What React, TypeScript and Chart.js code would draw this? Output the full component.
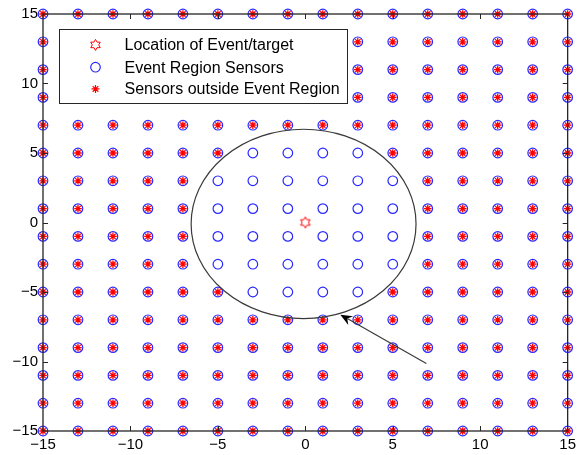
import React, { useEffect, useRef } from 'react';
import { Chart, registerables } from 'chart.js';

Chart.register(...registerables);

// Sensor grid coordinates
const gridX = [-15, -13, -11, -9, -7, -5, -3, -1, 1, 3, 5, 7, 9, 11, 13, 15];
const gridY = [15, 13, 11, 9, 7, 5, 3, 1, -1, -3, -5, -7, -9, -11, -13, -15];

// Sensors inside the event region
const insideSensors: [number, number][] = [
  [-3, 5], [-1, 5], [1, 5], [3, 5],
  [-5, 3], [-3, 3], [-1, 3], [1, 3], [3, 3], [5, 3],
  [-5, 1], [-3, 1], [-1, 1], [1, 1], [3, 1], [5, 1],
  [-5, -1], [-3, -1], [-1, -1], [1, -1], [3, -1], [5, -1],
  [-5, -3], [-3, -3], [-1, -3], [1, -3], [3, -3], [5, -3],
  [-3, -5], [-1, -5], [1, -5], [3, -5],
];

// Event / target location
const targetX = [0];
const targetY = [0];

// Event region boundary (data units)
const regionCenterX = -0.1;
const regionCenterY = -0.1;
const regionRadiusX = 6.43;
const regionRadiusY = 6.81;

// Arrow annotation (data units)
const arrowFrom = [6.92, -10.14];
const arrowTo = [2.0, -6.63];

const axisMin = -15;
const axisMax = 15;
const tickStep = 5;

const legendLabels = [
  'Location of Event/target',
  'Event Region Sensors',
  'Sensors outside Event Region',
];

const RED = 'rgb(255,0,0)';
const BLUE = 'rgb(40,40,255)';
const AXIS = '#262626';
const FONT = "'Liberation Sans', Arial, Helvetica, sans-serif";

function hexagramPath(ctx: CanvasRenderingContext2D, cx: number, cy: number, R: number) {
  const r = R / Math.sqrt(3);
  ctx.beginPath();
  for (let i = 0; i < 12; i++) {
    const ang = -Math.PI / 2 + (i * Math.PI) / 6;
    const rad = i % 2 === 0 ? R : r;
    const px = cx + rad * Math.cos(ang);
    const py = cy + rad * Math.sin(ang);
    if (i === 0) ctx.moveTo(px, py);
    else ctx.lineTo(px, py);
  }
  ctx.closePath();
}

function makeHexagram(): HTMLCanvasElement {
  const c = document.createElement('canvas');
  c.width = 14;
  c.height = 14;
  const g = c.getContext('2d')!;
  g.strokeStyle = RED;
  g.lineWidth = 1;
  hexagramPath(g, 7, 7, 5.5);
  g.stroke();
  return c;
}

function drawAsterisk(ctx: CanvasRenderingContext2D, x: number, y: number, r: number) {
  ctx.beginPath();
  for (let i = 0; i < 4; i++) {
    const a = (i * Math.PI) / 4;
    ctx.moveTo(x - r * Math.cos(a), y - r * Math.sin(a));
    ctx.lineTo(x + r * Math.cos(a), y + r * Math.sin(a));
  }
  ctx.stroke();
}

const overlayPlugin = {
  id: 'overlay',
  afterDatasetsDraw(chart: any) {
    const { ctx, chartArea: a, scales } = chart;
    const x = scales.x;
    const y = scales.y;
    ctx.save();

    // Event region ellipse
    const cx = x.getPixelForValue(regionCenterX);
    const cy = y.getPixelForValue(regionCenterY);
    const rx = x.getPixelForValue(regionCenterX + regionRadiusX) - cx;
    const ry = cy - y.getPixelForValue(regionCenterY + regionRadiusY);
    ctx.beginPath();
    ctx.ellipse(cx, cy, rx, ry, 0, 0, Math.PI * 2);
    ctx.strokeStyle = '#3a3a3a';
    ctx.lineWidth = 1.2;
    ctx.stroke();

    // Arrow
    const tx = x.getPixelForValue(arrowFrom[0]);
    const ty = y.getPixelForValue(arrowFrom[1]);
    const hx = x.getPixelForValue(arrowTo[0]);
    const hy = y.getPixelForValue(arrowTo[1]);
    const len = Math.hypot(hx - tx, hy - ty);
    const dx = (hx - tx) / len;
    const dy = (hy - ty) / len;
    const nx = -dy;
    const ny = dx;
    const L = 12;
    const W = 5;
    const notch = 8;
    ctx.beginPath();
    ctx.moveTo(tx, ty);
    ctx.lineTo(hx - dx * notch, hy - dy * notch);
    ctx.strokeStyle = '#3a3a3a';
    ctx.lineWidth = 1.2;
    ctx.stroke();
    ctx.beginPath();
    ctx.moveTo(hx, hy);
    ctx.lineTo(hx - dx * L + nx * W, hy - dy * L + ny * W);
    ctx.lineTo(hx - dx * notch, hy - dy * notch);
    ctx.lineTo(hx - dx * L - nx * W, hy - dy * L - ny * W);
    ctx.closePath();
    ctx.fillStyle = '#000';
    ctx.fill();

    // Axes box
    ctx.strokeStyle = AXIS;
    ctx.lineWidth = 1.3;
    ctx.strokeRect(a.left, a.top, a.right - a.left, a.bottom - a.top);

    // Inward tick marks
    const tl = 5;
    ctx.lineWidth = 1;
    ctx.beginPath();
    x.ticks.forEach((t: any) => {
      if (t.value <= axisMin || t.value >= axisMax) return;
      const px = Math.round(x.getPixelForValue(t.value)) + 0.5;
      ctx.moveTo(px, a.bottom);
      ctx.lineTo(px, a.bottom - tl);
      ctx.moveTo(px, a.top);
      ctx.lineTo(px, a.top + tl);
    });
    y.ticks.forEach((t: any) => {
      if (t.value <= axisMin || t.value >= axisMax) return;
      const py = Math.round(y.getPixelForValue(t.value)) + 0.5;
      ctx.moveTo(a.left, py);
      ctx.lineTo(a.left + tl, py);
      ctx.moveTo(a.right, py);
      ctx.lineTo(a.right - tl, py);
    });
    ctx.stroke();

    // Legend
    const bx = Math.round(a.left + 15.5) + 0.5;
    const by = Math.round(a.top + 15) + 0.5;
    const bw = 288;
    const bh = 74;
    ctx.fillStyle = '#fff';
    ctx.fillRect(bx, by, bw, bh);
    ctx.strokeStyle = AXIS;
    ctx.lineWidth = 1;
    ctx.strokeRect(bx, by, bw, bh);

    const rows = [15.4, 37.7, 59.4];
    const mx = bx + 36;
    const textX = bx + 65;
    // hexagram
    ctx.strokeStyle = RED;
    ctx.lineWidth = 1;
    hexagramPath(ctx, mx, by + rows[0], 5.5);
    ctx.stroke();
    // circle
    ctx.strokeStyle = BLUE;
    ctx.lineWidth = 1.2;
    ctx.beginPath();
    ctx.arc(mx, by + rows[1], 4.8, 0, Math.PI * 2);
    ctx.stroke();
    // asterisk
    ctx.strokeStyle = RED;
    ctx.lineWidth = 1.2;
    drawAsterisk(ctx, mx, by + rows[2], 4);

    ctx.fillStyle = '#000';
    ctx.font = `16px ${FONT}`;
    ctx.textBaseline = 'middle';
    ctx.textAlign = 'left';
    legendLabels.forEach((lbl, i) => {
      ctx.fillText(lbl, textX, by + rows[i] + 1);
    });

    ctx.restore();
  },
};

const fmt = (v: any) => {
  const n = Number(v);
  return n < 0 ? '\u2212' + Math.abs(n) : String(n);
};

export default function App() {
  const canvasRef = useRef<HTMLCanvasElement | null>(null);

  useEffect(() => {
    if (!canvasRef.current) return;

    const allSensors: { x: number; y: number }[] = [];
    gridY.forEach((yy) => gridX.forEach((xx) => allSensors.push({ x: xx, y: yy })));
    const isInside = (p: { x: number; y: number }) =>
      insideSensors.some(([ix, iy]) => ix === p.x && iy === p.y);
    const outsideSensors = allSensors.filter((p) => !isInside(p));
    const target = targetX.map((v, i) => ({ x: v, y: targetY[i] }));

    const chart = new Chart(canvasRef.current, {
      type: 'scatter',
      data: {
        datasets: [
          {
            label: legendLabels[0],
            data: target,
            pointStyle: makeHexagram() as any,
            pointRadius: 6,
            order: 0,
            clip: false as any,
          },
          {
            label: legendLabels[2],
            data: outsideSensors,
            pointStyle: 'star',
            pointRadius: 3.8,
            borderColor: RED,
            backgroundColor: RED,
            borderWidth: 1.3,
            order: 1,
            clip: false as any,
          },
          {
            label: legendLabels[1],
            data: allSensors,
            pointStyle: 'circle',
            pointRadius: 4.8,
            borderColor: BLUE,
            backgroundColor: 'rgba(0,0,0,0)',
            borderWidth: 1.2,
            order: 2,
            clip: false as any,
          },
        ],
      },
      options: {
        responsive: false,
        animation: false,
        devicePixelRatio: 1,
        layout: { padding: { top: 12, right: 8, left: 0, bottom: 0 } },
        plugins: {
          legend: { display: false },
          tooltip: { enabled: false },
        },
        scales: {
          x: {
            type: 'linear',
            min: axisMin,
            max: axisMax,
            grid: { display: false, drawTicks: false, tickLength: 0 },
            border: { display: false },
            ticks: {
              stepSize: tickStep,
              autoSkip: false,
              maxRotation: 0,
              padding: 5,
              color: '#000',
              font: { family: FONT, size: 15 },
              callback: fmt,
            },
            afterFit: (s: any) => {
              s.height = 24;
            },
          },
          y: {
            type: 'linear',
            min: axisMin,
            max: axisMax,
            grid: { display: false, drawTicks: false, tickLength: 0 },
            border: { display: false },
            ticks: {
              stepSize: tickStep,
              autoSkip: false,
              padding: 5,
              color: '#000',
              font: { family: FONT, size: 15 },
              callback: fmt,
            },
            afterFit: (s: any) => {
              s.width = 43;
            },
          },
        },
      },
      plugins: [overlayPlugin],
    });

    return () => chart.destroy();
  }, []);

  return (
    <div style={{ position: 'absolute', left: 0, top: 0, width: 581, height: 455, background: '#fff' }}>
      <canvas ref={canvasRef} width={581} height={455} style={{ display: 'block', width: 581, height: 455 }} />
    </div>
  );
}
